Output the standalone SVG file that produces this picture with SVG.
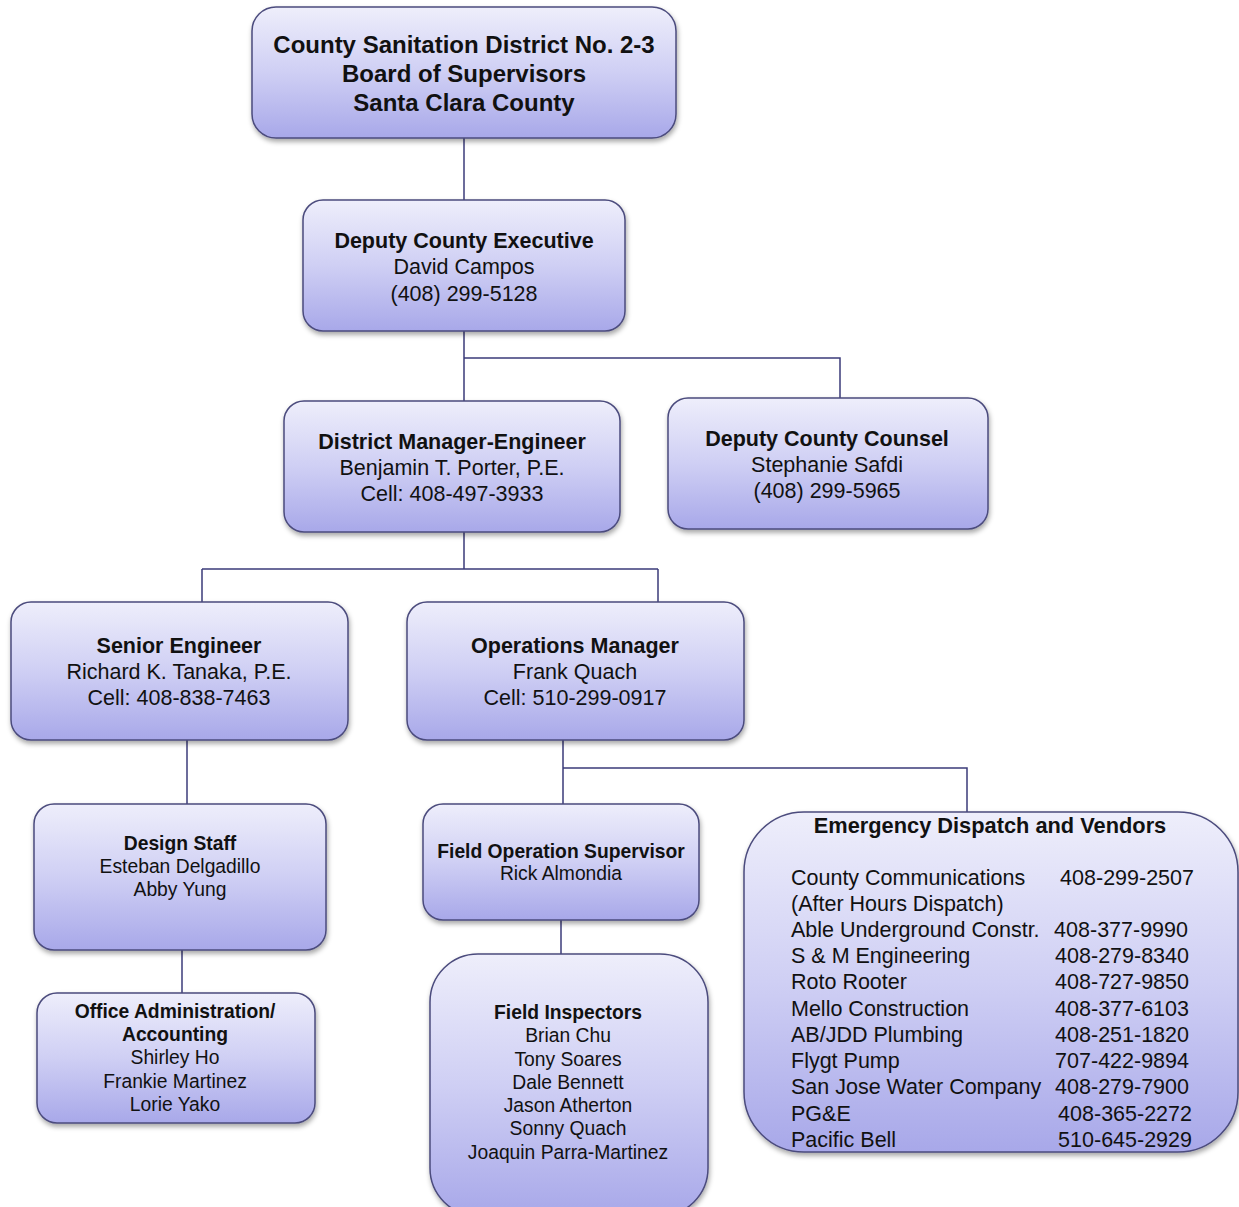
<svg xmlns="http://www.w3.org/2000/svg" width="1239" height="1207" viewBox="0 0 1239 1207">
<style>
.box{fill:url(#g);stroke:#4b4b7d;stroke-width:1.5;filter:url(#sh)}
.t{font-family:"Liberation Sans",Arial,sans-serif;fill:#111;text-anchor:middle}
.b{font-weight:bold}
.l{font-family:"Liberation Sans",Arial,sans-serif;fill:#111;font-size:21.5px}
.r{text-anchor:end}
.c{stroke:#3b3b7a;stroke-width:1.5;fill:none}
</style>
<defs>
<linearGradient id="g" x1="0" y1="0" x2="0" y2="1">
<stop offset="0" stop-color="#eeeefb"/>
<stop offset="0.5" stop-color="#cfcff4"/>
<stop offset="1" stop-color="#a8a8e9"/>
</linearGradient>
<filter id="sh" x="-10%" y="-10%" width="120%" height="125%">
<feDropShadow dx="1" dy="3" stdDeviation="2.5" flood-color="#000" flood-opacity="0.35"/>
</filter>
</defs>
<g id="connectors">
<path class="c" d="M464 138V200"/>
<path class="c" d="M464 331V401M464 358H840V398"/>
<path class="c" d="M464 532V569M202 569H658M202 569V602M658 569V602"/>
<path class="c" d="M187 740V804"/>
<path class="c" d="M182 950V993"/>
<path class="c" d="M563 740V804M563 768H967V812"/>
<path class="c" d="M561 920V954"/>
</g>
<g id="n-board">
<rect class="box" x="252" y="7" width="424" height="131" rx="24"/>
<text class="t b" font-size="24"><tspan x="464" y="53">County Sanitation District No. 2-3</tspan><tspan x="464" y="82">Board of Supervisors</tspan><tspan x="464" y="111">Santa Clara County</tspan></text>
</g>
<g id="n-dce">
<rect class="box" x="303" y="200" width="322" height="131" rx="20"/>
<text class="t" font-size="21.5"><tspan class="b" x="464" y="248">Deputy County Executive</tspan><tspan x="464" y="274">David Campos</tspan><tspan x="464" y="301">(408) 299-5128</tspan></text>
</g>
<g id="n-dme">
<rect class="box" x="284" y="401" width="336" height="131" rx="20"/>
<text class="t" font-size="21.5"><tspan class="b" x="452" y="449">District Manager-Engineer</tspan><tspan x="452" y="475">Benjamin T. Porter, P.E.</tspan><tspan x="452" y="501">Cell: 408-497-3933</tspan></text>
</g>
<g id="n-dcc">
<rect class="box" x="668" y="398" width="320" height="131" rx="20"/>
<text class="t" font-size="21.5"><tspan class="b" x="827" y="446">Deputy County Counsel</tspan><tspan x="827" y="472">Stephanie Safdi</tspan><tspan x="827" y="498">(408) 299-5965</tspan></text>
</g>
<g id="n-se">
<rect class="box" x="11" y="602" width="337" height="138" rx="20"/>
<text class="t" font-size="21.5"><tspan class="b" x="179" y="653">Senior Engineer</tspan><tspan x="179" y="679">Richard K. Tanaka, P.E.</tspan><tspan x="179" y="705">Cell: 408-838-7463</tspan></text>
</g>
<g id="n-om">
<rect class="box" x="407" y="602" width="337" height="138" rx="20"/>
<text class="t" font-size="21.5"><tspan class="b" x="575" y="653">Operations Manager</tspan><tspan x="575" y="679">Frank Quach</tspan><tspan x="575" y="705">Cell: 510-299-0917</tspan></text>
</g>
<g id="n-ds">
<rect class="box" x="34" y="804" width="292" height="146" rx="20"/>
<text class="t" font-size="19.3"><tspan class="b" x="180" y="850">Design Staff</tspan><tspan x="180" y="873">Esteban Delgadillo</tspan><tspan x="180" y="896">Abby Yung</tspan></text>
</g>
<g id="n-oa">
<rect class="box" x="37" y="993" width="278" height="130" rx="20"/>
<text class="t" font-size="19.3"><tspan class="b" x="175" y="1018">Office Administration/</tspan><tspan class="b" x="175" y="1041">Accounting</tspan><tspan x="175" y="1064">Shirley Ho</tspan><tspan x="175" y="1088">Frankie Martinez</tspan><tspan x="175" y="1111">Lorie Yako</tspan></text>
</g>
<g id="n-fos">
<rect class="box" x="423" y="804" width="276" height="116" rx="20"/>
<text class="t" font-size="19.3"><tspan class="b" x="561" y="858">Field Operation Supervisor</tspan><tspan x="561" y="880">Rick Almondia</tspan></text>
</g>
<g id="n-fi">
<rect class="box" x="430" y="954" width="278" height="262" rx="48"/>
<text class="t" font-size="19.3"><tspan class="b" x="568" y="1019">Field Inspectors</tspan><tspan x="568" y="1042">Brian Chu</tspan><tspan x="568" y="1066">Tony Soares</tspan><tspan x="568" y="1089">Dale Bennett</tspan><tspan x="568" y="1112">Jason Atherton</tspan><tspan x="568" y="1135">Sonny Quach</tspan><tspan x="568" y="1159">Joaquin Parra-Martinez</tspan></text>
</g>
<g id="n-ed">
<rect class="box" x="744" y="812" width="494" height="340" rx="60"/>
<text class="t b" font-size="21.8" x="990" y="833">Emergency Dispatch and Vendors</text>
<text class="l"><tspan x="791" y="885">County Communications</tspan><tspan x="791" y="911">(After Hours Dispatch)</tspan><tspan x="791" y="937">Able Underground Constr.</tspan><tspan x="791" y="963">S &amp; M Engineering</tspan><tspan x="791" y="989">Roto Rooter</tspan><tspan x="791" y="1016">Mello Construction</tspan><tspan x="791" y="1042">AB/JDD Plumbing</tspan><tspan x="791" y="1068">Flygt Pump</tspan><tspan x="791" y="1094">San Jose Water Company</tspan><tspan x="791" y="1121">PG&amp;E</tspan><tspan x="791" y="1147">Pacific Bell</tspan></text>
<text class="l r"><tspan x="1194" y="885">408-299-2507</tspan><tspan x="1188" y="937">408-377-9990</tspan><tspan x="1189" y="963">408-279-8340</tspan><tspan x="1189" y="989">408-727-9850</tspan><tspan x="1189" y="1016">408-377-6103</tspan><tspan x="1189" y="1042">408-251-1820</tspan><tspan x="1189" y="1068">707-422-9894</tspan><tspan x="1189" y="1094">408-279-7900</tspan><tspan x="1192" y="1121">408-365-2272</tspan><tspan x="1192" y="1147">510-645-2929</tspan></text>
</g>
</svg>
